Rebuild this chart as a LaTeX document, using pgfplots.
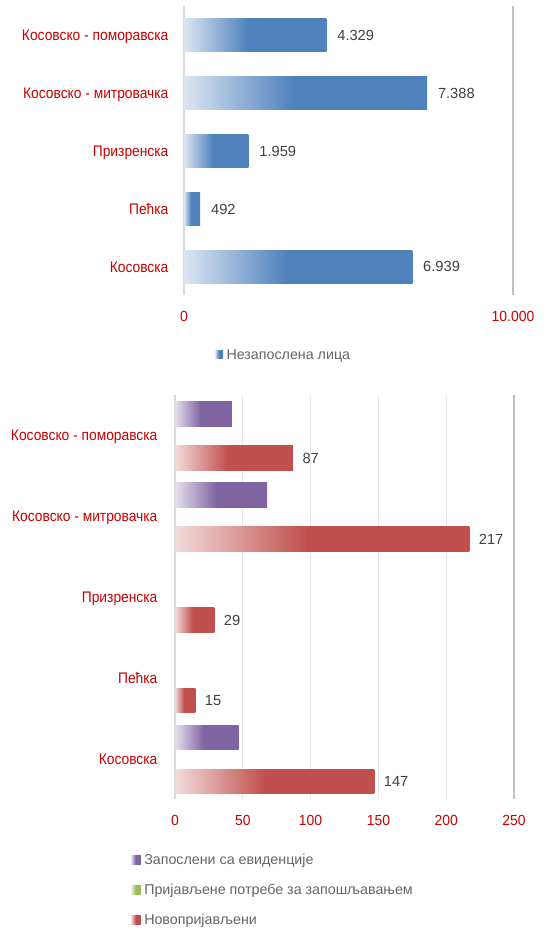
\documentclass[border=0pt]{standalone}
\usepackage{fontspec}
\setmainfont{Liberation Sans}
\newfontfamily\catfont[FakeStretch=0.9]{Liberation Sans}
\newfontfamily\tickfont[FakeStretch=0.95]{Liberation Sans}
\usepackage{pgfplots}
\pgfplotsset{compat=1.18}

\definecolor{barblue}{HTML}{4F81BD}
\definecolor{bluelight}{HTML}{DCE6F2}
\definecolor{barpurple}{HTML}{8064A2}
\definecolor{purplelight}{HTML}{E6E0EC}
\definecolor{barred}{HTML}{C0504D}
\definecolor{redlight}{HTML}{F2DCDB}
\definecolor{bargreen}{HTML}{9BBB59}
\definecolor{greenlight}{HTML}{EBF1DE}
\definecolor{catred}{HTML}{C80000}
\definecolor{valgray}{HTML}{404040}
\definecolor{leggray}{HTML}{646464}
\definecolor{axisgray}{HTML}{D9D9D9}
\definecolor{edgegray}{HTML}{BFBFBF}
\definecolor{gridgray}{HTML}{E6E6E6}

% light at the left end, full colour from ~45% of the bar on
\pgfdeclarehorizontalshading{blueshade}{100bp}{color(0bp)=(bluelight); color(25bp)=(bluelight); color(47.5bp)=(barblue); color(100bp)=(barblue)}
\pgfdeclarehorizontalshading{purpleshade}{100bp}{color(0bp)=(purplelight); color(25bp)=(purplelight); color(47.5bp)=(barpurple); color(100bp)=(barpurple)}
\pgfdeclarehorizontalshading{redshade}{100bp}{color(0bp)=(redlight); color(25bp)=(redlight); color(47.5bp)=(barred); color(100bp)=(barred)}
\pgfdeclarehorizontalshading{greenshade}{100bp}{color(0bp)=(greenlight); color(25bp)=(greenlight); color(47.5bp)=(bargreen); color(100bp)=(bargreen)}

\pgfplotsset{
  regional/.style={
    scale only axis,
    enlargelimits=false,
    ymin=-0.5, ymax=4.5,
    ytick={0,1,2,3,4},
    yticklabels={Косовска, Пећка, Призренска, Косовско - митровачка, Косовско - поморавска},
    major tick length=0pt,
    axis x line*=bottom,
    axis y line*=left,
    x axis line style={draw=none},
    y axis line style={draw=axisgray, line width=1.5pt, -},
    xmajorgrids,
    scaled x ticks=false,
    /pgf/number format/.cd, 1000 sep={.}, assume math mode=true,
    /pgfplots/.cd,
    yticklabel style={font=\fontsize{11.5}{13}\selectfont\catfont, text=catred,
      anchor=east, inner sep=0pt, text height=8.2pt, text depth=0pt},
    xticklabel style={font=\fontsize{11}{13}\selectfont\tickfont, text=catred,
      anchor=north, inner sep=0pt},
    point meta=x,
    legend style={draw=none, fill=none, inner sep=0pt,
      font=\fontsize{10.7}{12}\selectfont, text=leggray,
      nodes={inner sep=0pt, text height=7.6pt, text depth=0pt},
      /tikz/every odd column/.style={column sep=2.5pt}},
    legend cell align=left,
  },
  valuelabels/.style={nodes near coords,
    nodes near coords style={font=\fontsize{11}{13}\selectfont, text=valgray,
      anchor=west, inner sep=0pt, text height=7.9pt, text depth=0pt, #1}},
  % one \addplot per bar, so that each bar gets its own gradient
  bluebar/.style={xbar, bar width=0.57, bar shift=0, draw=none, shade, shading=blueshade,
    valuelabels={xshift=8pt},
    legend image code/.code={\shade[shading=blueshade, draw=none] (0pt,-2.7pt) rectangle (6pt,2.7pt);}},
  purplebar/.style={xbar, bar width=0.305, bar shift=0.262, draw=none, shade, shading=purpleshade,
    legend image code/.code={\shade[shading=purpleshade, draw=none] (0pt,-3.6pt) rectangle (7.3pt,3.6pt);}},
  redbar/.style={xbar, bar width=0.305, bar shift=-0.283, draw=none, shade, shading=redshade,
    valuelabels={xshift=7pt, yshift=-17.15pt},
    legend image code/.code={\shade[shading=redshade, draw=none] (0pt,-3.6pt) rectangle (7.3pt,3.6pt);}},
}

\begin{document}
\begin{tikzpicture}
\path[use as bounding box] (0,0) rectangle (411pt,-697.5pt);

% upper chart: unemployed persons
\begin{axis}[regional,
  at={(138pt,-4.875pt)}, anchor=north west,
  width=246.75pt, height=216.75pt,
  xmin=0, xmax=10000,
  xtick={0}, extra x ticks={10000},
  major grid style={draw=none},
  extra x tick style={major grid style={draw=edgegray, line width=2pt}},
  xticklabel style={yshift=-11.5pt},
  yticklabel style={xshift=-11.5pt},
  legend style={at={(0.094,-0.204)}, anchor=west},
]
\addplot[bluebar] coordinates {(4329,4)};
\addlegendentry{Незапослена лица}
\addplot[bluebar, forget plot] coordinates {(7388,3)};
\addplot[bluebar, forget plot] coordinates {(1959,2)};
\addplot[bluebar, forget plot] coordinates {(492,1)};
\addplot[bluebar, forget plot] coordinates {(6939,0)};
\end{axis}

% lower chart: flows
\begin{axis}[regional,
  at={(131.25pt,-296.25pt)}, anchor=north west,
  width=254.25pt, height=303pt,
  xmin=0, xmax=250,
  xtick={0,50,100,150,200}, extra x ticks={250},
  major grid style={draw=gridgray, line width=0.8pt},
  extra x tick style={major grid style={draw=edgegray, line width=1.6pt}},
  xticklabel style={yshift=-11.8pt},
  yticklabel style={xshift=-13pt},
  legend style={at={(-0.13,-0.225)}, anchor=west,
    /tikz/row sep=14.9pt},
]
\addplot[purplebar] coordinates {(42,4)};
\addlegendentry{Запослени са евиденције}
\addplot[purplebar, forget plot] coordinates {(68,3)};
\addplot[purplebar, forget plot] coordinates {(47,0)};
\addlegendimage{legend image code/.code={\shade[shading=greenshade, draw=none] (0pt,-3.6pt) rectangle (7.3pt,3.6pt);}}
\addlegendentry{Пријављене потребе за запошљавањем}
\addplot[redbar] coordinates {(87,4)};
\addlegendentry{Новопријављени}
\addplot[redbar, forget plot] coordinates {(217,3)};
\addplot[redbar, forget plot] coordinates {(29,2)};
\addplot[redbar, forget plot] coordinates {(15,1)};
\addplot[redbar, forget plot] coordinates {(147,0)};
\end{axis}
\end{tikzpicture}
\end{document}
